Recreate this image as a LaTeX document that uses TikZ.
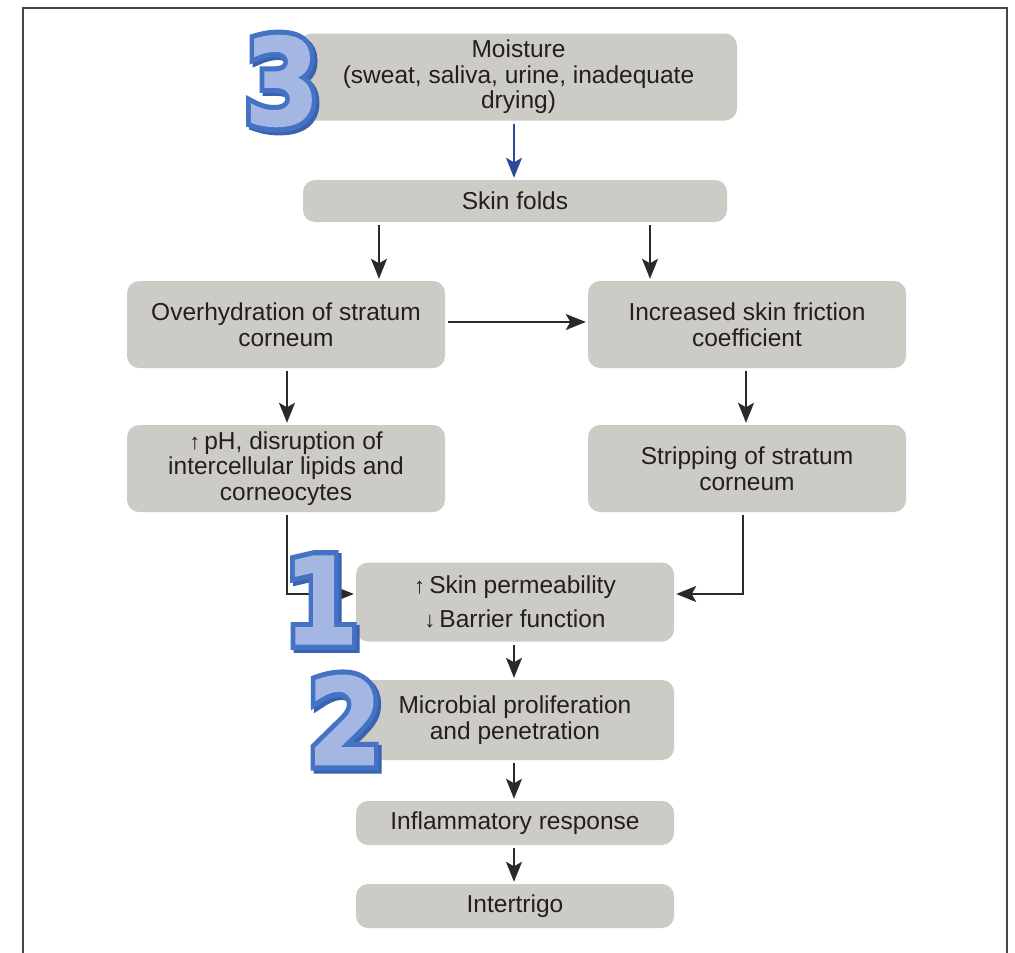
\documentclass[tikz,border=0pt]{standalone}
\usepackage{fontspec}
\setmainfont{Liberation Sans}
\newfontfamily\digitfont{DejaVu Sans Bold}[FakeBold=1.5]
\newfontfamily\digitoutfont{DejaVu Sans Bold}[FakeBold=10]
\usetikzlibrary{arrows.meta,calc}
\definecolor{boxgray}{HTML}{CDCBC5}
\definecolor{txt}{HTML}{231F20}
\definecolor{linec}{HTML}{2A2A2A}
\definecolor{framec}{HTML}{444444}
\definecolor{arrblue}{HTML}{2B4A98}
\definecolor{dout}{HTML}{4472C4}
\definecolor{dshadow}{HTML}{3A62B0}
\definecolor{dfill}{HTML}{A3B7E2}
\tikzset{
  box/.style={fill=boxgray, rounded corners=12pt, align=center, text=txt,
    font=\fontsize{24.5}{25.5}\selectfont, inner sep=0pt},
  arr/.style={draw=linec, line width=1.4pt, -{Stealth[length=20pt,width=16pt,inset=4.5pt]},
    shorten <=3pt, shorten >=2pt},
  bluearr/.style={arr, draw=arrblue, fill=arrblue},
  digitout/.style={font=\digitoutfont\fontsize{120}{120}\selectfont, inner sep=0pt, xscale=0.9, text=dout},
  digitshadow/.style={digitout, text=dshadow},
  digitfill/.style={font=\digitfont\fontsize{120}{120}\selectfont, inner sep=0pt, xscale=0.9, text=dfill},
}
\begin{document}
\begin{tikzpicture}[x=1pt,y=-1pt]
\useasboundingbox (0,0) rectangle (1015,953);
\draw[framec, line width=2pt] (23,953) -- (23,8) -- (1007,8) -- (1007,953);

\node[box, minimum width=437, minimum height=87] (moist) at (518.5,77)
  {Moisture\\(sweat, saliva, urine, inadequate\\drying)};
\node[box, minimum width=424, minimum height=42] (sf) at (515,201) {Skin folds};
\node[box, minimum width=318, minimum height=87] (ov) at (286,324.5)
  {Overhydration of stratum\\corneum};
\node[box, minimum width=318, minimum height=87] (inc) at (747,324.5)
  {Increased skin friction\\coefficient};
\node[box, minimum width=318, minimum height=87] (ph) at (286,468.5)
  {{\fontsize{22}{22}\selectfont↑}\,pH, disruption of\\intercellular lipids and\\corneocytes};
\node[box, minimum width=318, minimum height=87] (strip) at (747,468.5)
  {Stripping of stratum\\corneum};
\node[box, minimum width=318, minimum height=79, font=\fontsize{24.5}{34}\selectfont] (perm) at (515,602)
  {{\fontsize{22}{22}\selectfont↑}\,Skin permeability\\{\fontsize{22}{22}\selectfont↓}\,Barrier function};
\node[box, minimum width=318, minimum height=80] (mic) at (515,720)
  {Microbial proliferation\\and penetration};
\node[box, minimum width=318, minimum height=44] (infl) at (515,823) {Inflammatory response};
\node[box, minimum width=318, minimum height=44] (inter) at (515,906) {Intertrigo};

\coordinate (x514) at (514,0);
\coordinate (x379) at (379,0);
\coordinate (x650) at (650,0);
\coordinate (x287) at (287,0);
\coordinate (x743) at (743,0);
\coordinate (x746) at (746,0);
\coordinate (y594) at (0,594);
\coordinate (y322) at (0,322);

\draw[bluearr] (moist.south -| x514) -- (sf.north -| x514);
\draw[arr] (sf.south -| x379) -- (ov.north -| x379);
\draw[arr] (sf.south -| x650) -- (inc.north -| x650);
\draw[arr] (ov.east |- y322) -- (inc.west |- y322);
\draw[arr] (ov.south -| x287) -- (ph.north -| x287);
\draw[arr] (inc.south -| x746) -- (strip.north -| x746);
\draw[arr] (ph.south -| x287) |- (perm.west |- y594);
\draw[arr] (strip.south -| x743) |- (perm.east |- y594);
\draw[arr] (perm.south -| x514) -- (mic.north -| x514);
\draw[arr] (mic.south -| x514) -- (infl.north -| x514);
\draw[arr] (infl.south -| x514) -- (inter.north -| x514);

% large decorative digits
\coordinate (p3) at (282,81);
\coordinate (p1) at (321,600);
\coordinate (p2) at (345,720);
\foreach \d/\p in {3/p3,1/p1,2/p2}{
  \node[digitshadow, name=s\d] at ($(\p)+(3,3)$) {\d};
  \node[digitout, name=o\d] at (\p) {\d};
  \node[digitfill, name=f\d] at (\p) {\d};
}
\end{tikzpicture}
\end{document}
